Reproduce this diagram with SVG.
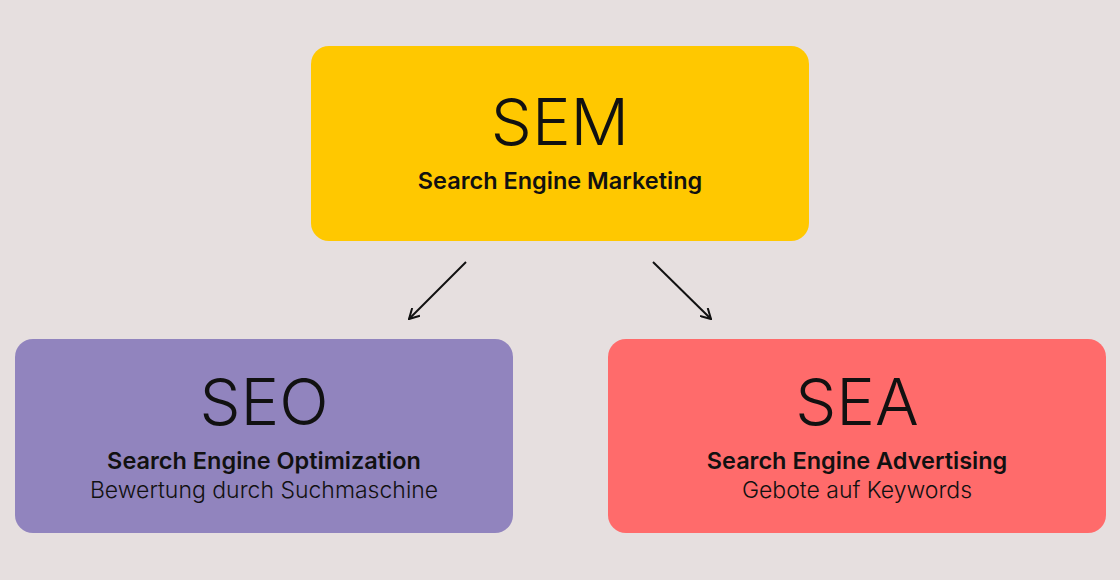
<svg xmlns="http://www.w3.org/2000/svg" width="1120" height="580" viewBox="0 0 1120 580">
<defs>
<marker id="arr" viewBox="0 0 12 12" refX="11" refY="6" markerWidth="12" markerHeight="12" markerUnits="userSpaceOnUse" orient="auto">
<path d="M1,0.5 L11,6 L1,11.5" fill="none" stroke="#111" stroke-width="2"/>
</marker>
</defs>
<style>
.title{font-family:"Inter","Lato",sans-serif;font-weight:300;font-size:65px;fill:#111;text-anchor:middle}
.sub{font-family:"Inter","Lato",sans-serif;font-weight:600;font-size:23.5px;fill:#111;text-anchor:middle}
.desc{font-family:"Inter","Lato",sans-serif;font-weight:300;font-size:23px;fill:#111;text-anchor:middle}
.conn{stroke:#111;stroke-width:2;fill:none}
</style>
<rect width="1120" height="580" fill="#e6dfdf"/>
<g id="sem">
<rect x="311" y="46" width="498" height="195" rx="18" fill="#ffc800"/>
<text class="title" x="560" y="145">SEM</text>
<text class="sub" x="560" y="189">Search Engine Marketing</text>
</g>
<g id="seo">
<rect x="15" y="339" width="498" height="194" rx="18" fill="#9184be"/>
<text class="title" x="264" y="425">SEO</text>
<text class="sub" x="264" y="469">Search Engine Optimization</text>
<text class="desc" x="264" y="498">Bewertung durch Suchmaschine</text>
</g>
<g id="sea">
<rect x="608" y="339" width="498" height="194" rx="18" fill="#ff6b6b"/>
<text class="title" x="857" y="425">SEA</text>
<text class="sub" x="857" y="469">Search Engine Advertising</text>
<text class="desc" x="857" y="498">Gebote auf Keywords</text>
</g>
<g id="connectors">
<line class="conn" x1="466" y1="262" x2="409" y2="319" marker-end="url(#arr)"/>
<line class="conn" x1="653" y1="262" x2="711" y2="319" marker-end="url(#arr)"/>
</g>
</svg>
